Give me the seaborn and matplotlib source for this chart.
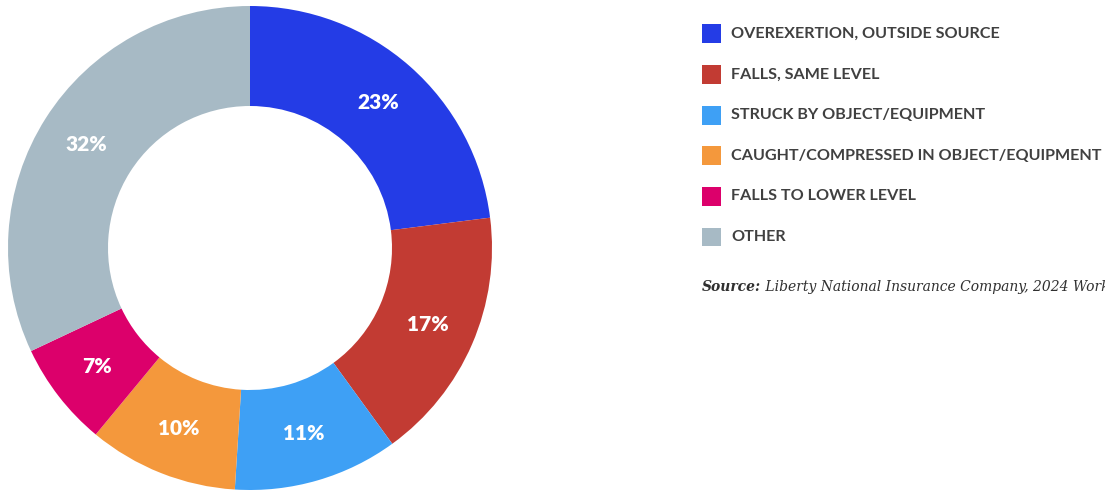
import matplotlib
matplotlib.use("Agg")
import matplotlib.pyplot as plt
from matplotlib.patches import Rectangle
import seaborn as sns

categories = ["OVEREXERTION, OUTSIDE SOURCE", "FALLS, SAME LEVEL", "STRUCK BY OBJECT/EQUIPMENT",
              "CAUGHT/COMPRESSED IN OBJECT/EQUIPMENT", "FALLS TO LOWER LEVEL", "OTHER"]
values = [23, 17, 11, 10, 7, 32]
colors = ["#243CE6", "#C23B33", "#3EA0F5", "#F4983C", "#DC006B", "#A7BAC5"]
source_label = "Source:"
source_text = " Liberty National Insurance Company, 2024 Workplace Safety Index"

sns.set_theme(style="white")
plt.rcParams['font.family'] = ['Lato', 'DejaVu Sans']

W, H = 1105, 490
fig = plt.figure(figsize=(W / 100, H / 100), dpi=100)
fig.patch.set_facecolor("white")

cx, cy, R = 250, 248, 242
ax = fig.add_axes([(cx - R) / W, (H - cy - R) / H, 2 * R / W, 2 * R / H])
wedges, texts, autotexts = ax.pie(values, colors=colors, startangle=90, counterclock=False,
                                  radius=1.0, wedgeprops=dict(width=100 / 242, linewidth=0),
                                  autopct=lambda p: f"{p:.0f}%", pctdistance=0.80,
                                  textprops=dict(color="white", fontsize=15, fontweight="heavy"))
ax.set_xlim(-1, 1)
ax.set_ylim(-1, 1)
ax.set_aspect("equal")
ax.axis("off")

# legend
y0, dy = 34, 40.6
for i, (lab, col) in enumerate(zip(categories, colors)):
    yc = y0 + i * dy
    fig.add_artist(Rectangle(((702) / W, (H - yc - 9.5) / H), 19 / W, 19 / H,
                             transform=fig.transFigure, facecolor=col, edgecolor="none"))
    fig.text(731 / W, (H - yc) / H, lab, ha="left", va="center", fontsize=11.6,
             fontweight="bold", color="#404040")

t = fig.text(702 / W, (H - 287) / H, source_label, ha="left", va="center", fontsize=10,
             family=["DejaVu Serif"], style="italic", fontweight="bold", color="#303030")
fig.canvas.draw()
bb = t.get_window_extent()
fig.text(bb.x1 / W, (H - 287) / H, source_text, ha="left", va="center", fontsize=10,
         family=["DejaVu Serif"], style="italic", color="#303030")

fig.savefig("out.png", dpi=100)
